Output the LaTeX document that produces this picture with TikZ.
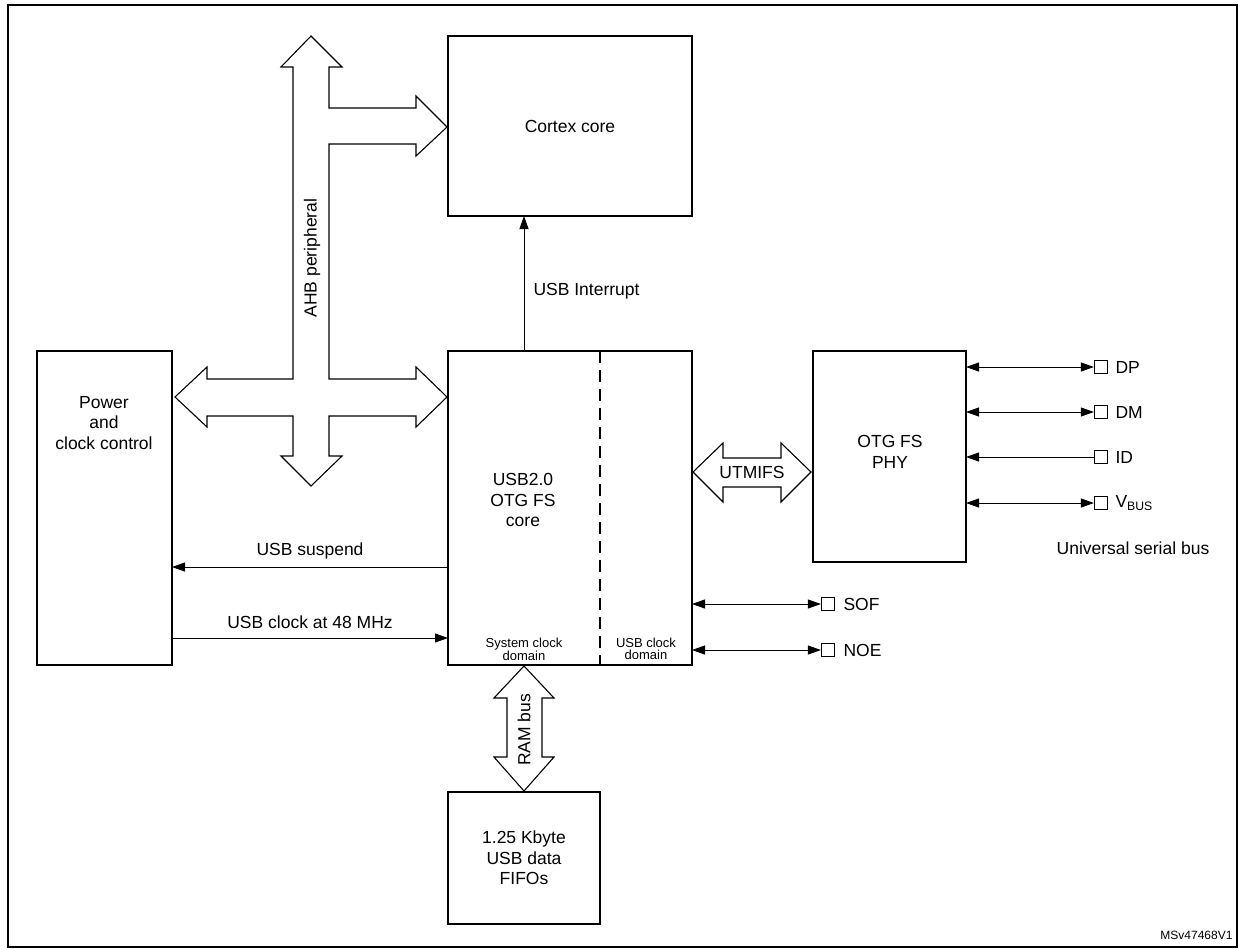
\documentclass[tikz,border=0pt]{standalone}
\usepackage{fontspec}
\setmainfont{Liberation Sans}
\usetikzlibrary{arrows.meta}
\begin{document}
\begin{tikzpicture}[x=1pt,y=-1pt,
  box/.style={draw,line width=1.6pt},
  bus/.style={draw,line width=1.1pt,fill=white,line join=miter},
  sig/.style={line width=0.9pt},
  tip/.style={-{Triangle[length=13pt,width=9pt]}},
  dtip/.style={{Triangle[length=13pt,width=9pt]}-{Triangle[length=13pt,width=9pt]}},
  pin/.style={draw,line width=1.2pt,minimum size=13pt,inner sep=0pt},
  txt/.style={font=\fontsize{17.5}{20.5}\selectfont,align=center},
  stxt/.style={font=\fontsize{13}{12}\selectfont,align=center}]
\useasboundingbox (0,0) rectangle (1241,948);
\draw[line width=2pt] (8,5) rectangle (1237,947);

% boxes
\draw[box] (448,36) rectangle (692,216);
\node[txt] (cortex) at (570,126) {Cortex core};
\draw[box] (448,351) rectangle (692,665);
\coordinate (coretop) at (524,351);
\coordinate (cortexbot) at (524,216);
\draw[line width=1.2pt,dash pattern=on 12pt off 7pt] (600,351) -- (600,665);
\node[txt] (core) at (523,500) {USB2.0\\OTG FS\\core};
\node[stxt] (sysdom) at (524,649) {System clock\\domain};
\node[stxt] (usbdom) at (646,649) {USB clock\\domain};
\draw[box] (37,351) rectangle (172,665);
\node[txt] (power) at (104,423) {Power\\and\\clock control};
\draw[box] (813,351) rectangle (966,562);
\node[txt] (phy) at (890,452) {OTG FS\\PHY};
\draw[box] (448,792) rectangle (600,924);
\node[txt] (fifo) at (524,858) {1.25 Kbyte\\USB data\\FIFOs};

% AHB bus
\path[bus] (311,36) -- (342,67) -- (329,67) -- (329,108) -- (416,108) -- (416,96) -- (447,127)
 -- (416,156) -- (416,144) -- (329,144) -- (329,379) -- (416,379) -- (416,367) -- (447,397)
 -- (416,427) -- (416,416) -- (329,416) -- (329,456) -- (342,456) -- (311,486) -- (281,456)
 -- (293,456) -- (293,416) -- (207,416) -- (207,427) -- (175,397) -- (207,367) -- (207,379)
 -- (293,379) -- (293,67) -- (281,67) -- cycle;
\node[txt,rotate=90] (ahb) at (312,258) {AHB peripheral};

% UTMIFS
\path[bus] (693,472) -- (723,443) -- (723,458) -- (781,458) -- (781,443) -- (811,472)
 -- (781,502) -- (781,487) -- (723,487) -- (723,502) -- cycle;
\node[txt] (utmi) at (752,472) {UTMIFS};

% RAM bus
\path[bus] (524,666) -- (554,698) -- (542,698) -- (542,757) -- (554,757) -- (524,791)
 -- (494,757) -- (507,757) -- (507,698) -- (494,698) -- cycle;
\node[txt,rotate=90] (ram) at (524,730) {RAM bus};

% signals
\draw[sig,tip] (coretop) -- (cortexbot);
\node[txt,anchor=west] (irq) at (530,291) {USB Interrupt};
\coordinate (suspA) at (448,567);
\coordinate (suspB) at (172,567);
\draw[sig,tip] (suspA) -- (suspB);
\node[txt] (susp) at (310,551) {USB suspend};
\coordinate (clkA) at (172,638);
\coordinate (clkB) at (448,638);
\draw[sig,tip] (clkA) -- (clkB);
\node[txt] (clk) at (310,622) {USB clock at 48 MHz};

% USB pins
\node[pin] (dp) at (1101,367) {};
\node[pin] (dm) at (1101,412) {};
\node[pin] (id) at (1101,457) {};
\node[pin] (vbus) at (1101,503) {};
\foreach \p/\y in {dp/367,dm/412,vbus/503}
  \draw[sig,dtip] (966,\y) -- (\p.west);
\draw[sig,tip] (id.west) -- (966,457);
\node[txt,anchor=west] (dpl) at (1112,367) {DP};
\node[txt,anchor=west] (dml) at (1112,412) {DM};
\node[txt,anchor=west] (idl) at (1112,457) {ID};
\node[txt,anchor=west] (vbl) at (1112,503) {V\textsubscript{BUS}};
\node[txt] (usbbus) at (1133,548) {Universal serial bus};

\node[pin] (sof) at (828,604) {};
\node[pin] (noe) at (828,650) {};
\draw[sig,dtip] (692,604) -- (sof.west);
\draw[sig,dtip] (692,650) -- (noe.west);
\node[txt,anchor=west] (sofl) at (840,604) {SOF};
\node[txt,anchor=west] (noel) at (840,650) {NOE};

\node[font=\fontsize{12}{12}\selectfont,anchor=east] (ms) at (1236,935) {MSv47468V1};
\end{tikzpicture}
\end{document}
